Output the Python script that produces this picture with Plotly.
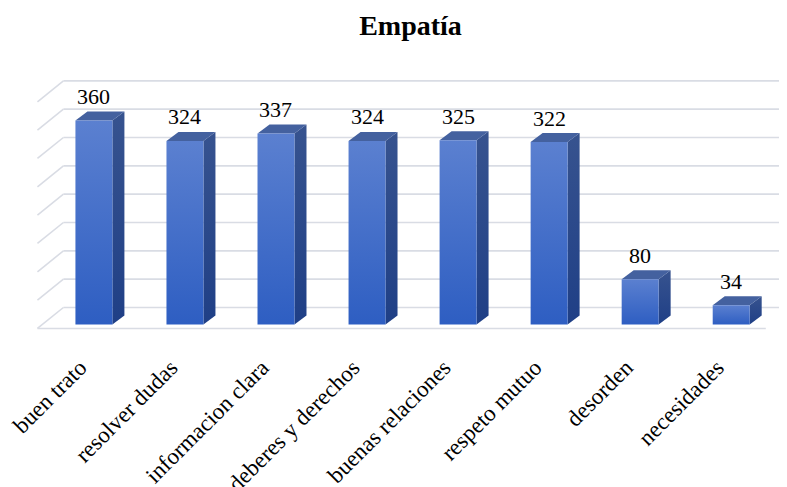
import plotly.graph_objects as go

categories = ["buen trato", "resolver dudas", "informacion clara", "deberes y derechos",
              "buenas relaciones", "respeto mutuo", "desorden", "necesidades"]
values = [360, 324, 337, 324, 325, 322, 80, 34]
grid_values = [0, 50, 100, 150, 200, 250, 300, 350, 400]

# style constants (3D look)
HALF_W = 0.203      # half width of bar front face (x units)
DX = 0.132          # depth offset in x
DY = 15.9           # depth offset in y
WALL_DX_BACK = -0.335
WALL_DX_FRONT = -0.62
WALL_BACK_DY = 30
WALL_FRONT_DY = -7
X_RIGHT = 7.57

FONT = "Liberation Serif"
GRID = "#d9dce4"

fig = go.Figure()

shapes = []
for v in grid_values:
    yb = v + WALL_BACK_DY
    yf = v + WALL_FRONT_DY
    shapes.append(dict(type="line", xref="x", yref="y", x0=WALL_DX_BACK, x1=X_RIGHT, y0=yb, y1=yb,
                       line=dict(color=GRID, width=1.6), layer="below"))
    shapes.append(dict(type="line", xref="x", yref="y", x0=WALL_DX_FRONT, x1=WALL_DX_BACK, y0=yf, y1=yb,
                       line=dict(color=GRID, width=1.6), layer="below"))
shapes.append(dict(type="line", xref="x", yref="y", x0=WALL_DX_FRONT, x1=7.38,
                   y0=WALL_FRONT_DY, y1=WALL_FRONT_DY, line=dict(color=GRID, width=1.6), layer="below"))

for i, v in enumerate(values):
    x0, x1 = i - HALF_W, i + HALF_W
    # side face
    fig.add_trace(go.Scatter(
        x=[x1, x1 + DX, x1 + DX, x1, x1], y=[0, DY, v + DY, v, 0],
        mode="lines", fill="toself", line=dict(width=0),
        fillgradient=dict(type="vertical", colorscale=[[0, "#1f3f86"], [1, "#37538f"]]),
        hoverinfo="skip", showlegend=False))
    # top face
    fig.add_trace(go.Scatter(
        x=[x0, x1, x1 + DX, x0 + DX, x0], y=[v, v, v + DY, v + DY, v],
        mode="lines", fill="toself", line=dict(width=0), fillcolor="#44619f",
        hoverinfo="skip", showlegend=False))
    # front face
    fig.add_trace(go.Scatter(
        x=[x0, x1, x1, x0, x0], y=[0, 0, v, v, 0],
        mode="lines", fill="toself", line=dict(width=0),
        fillgradient=dict(type="vertical", colorscale=[[0, "#2e5ec2"], [1, "#5b80d0"]]),
        hoverinfo="skip", showlegend=False))

annotations = []
for i, v in enumerate(values):
    annotations.append(dict(x=i, y=v, xref="x", yref="y", text=str(v), showarrow=False,
                            yanchor="middle", yshift=24, font=dict(family=FONT, size=22, color="black")))

fig.update_layout(
    width=779, height=479, autosize=False,
    paper_bgcolor="white", plot_bgcolor="white",
    margin=dict(l=23.5, r=2.6, t=70.4, b=153.5, autoexpand=False),
    title=dict(text="<b>Empatía</b>", x=0.5167, xref="container", y=0.9645, yref="container",
               xanchor="center", yanchor="middle", font=dict(family=FONT, size=28, color="black")),
    xaxis=dict(range=[-0.68, 7.58], tickvals=list(range(len(categories))), ticktext=categories,
               tickangle=-45, tickfont=dict(family=FONT, size=23, color="black"),
               showgrid=False, zeroline=False, showline=False, ticks="outside", ticklen=11,
               tickcolor="rgba(0,0,0,0)", automargin=False, ticklabelshift=-14,
               ticklabeloverflow="allow"),
    yaxis=dict(range=[-15, 435], showgrid=False, zeroline=False, showline=False,
               showticklabels=False, automargin=False),
    shapes=shapes, annotations=annotations,
)

fig.write_html("out.html")
